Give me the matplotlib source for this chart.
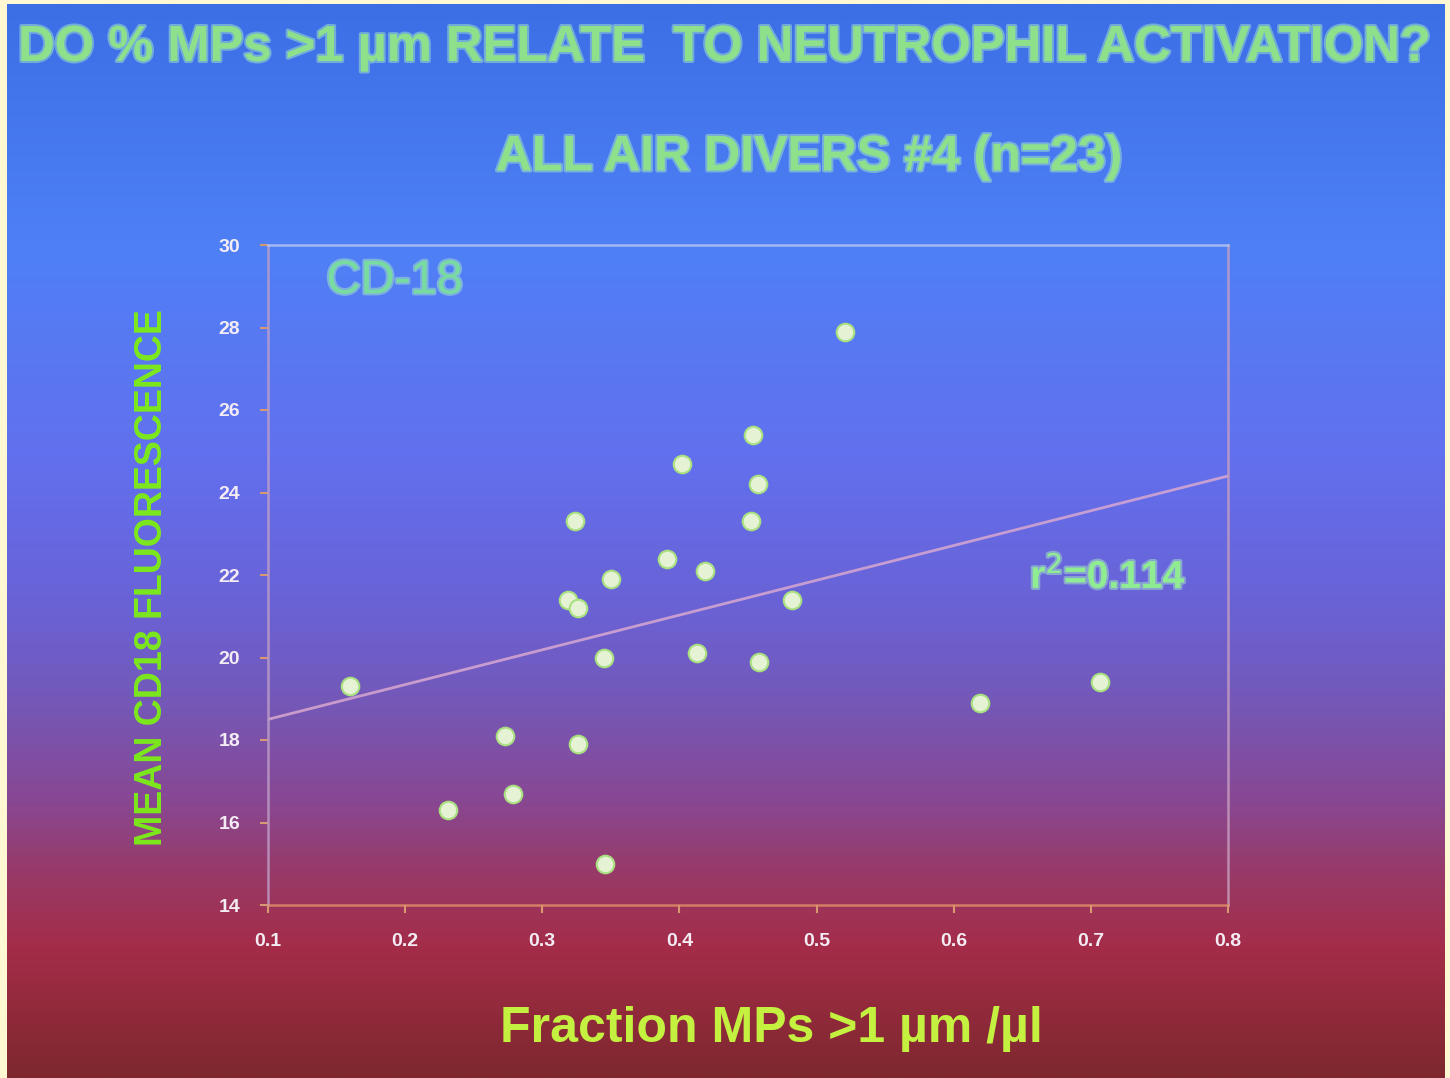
import matplotlib.pyplot as plt
import numpy as np
import matplotlib.patheffects as pe
from matplotlib.colors import LinearSegmentedColormap

# data
frac_mps = [0.160, 0.231, 0.273, 0.279, 0.324, 0.319, 0.326, 0.326, 0.346, 0.350,
            0.345, 0.391, 0.402, 0.419, 0.413, 0.454, 0.457, 0.452, 0.458, 0.482,
            0.521, 0.619, 0.707]
cd18 = [19.3, 16.3, 18.1, 16.7, 23.3, 21.4, 21.2, 17.9, 15.0, 21.9,
        20.0, 22.4, 24.7, 22.1, 20.1, 25.4, 24.2, 23.3, 19.9, 21.4,
        27.9, 18.9, 19.4]
trend_x = [0.1, 0.8]
trend_y = [18.5, 24.4]
xticks = [0.1, 0.2, 0.3, 0.4, 0.5, 0.6, 0.7, 0.8]
yticks = [14, 16, 18, 20, 22, 24, 26, 28, 30]

font = ['Liberation Sans', 'DejaVu Sans']
plt.rcParams['font.family'] = font

fig = plt.figure(figsize=(14.5, 10.78), dpi=100)
fig.patch.set_facecolor('#fff8d2')

# slide background gradient
bg = fig.add_axes([7/1450, 0, 1437/1450, 1074/1078])
bg.set_axis_off()
stops = [(0.0, '#3c6ee6'), (0.23, '#4f80f6'), (0.42, '#6270ee'), (0.56, '#6a62d6'),
         (0.65, '#7458b8'), (0.74, '#884894'), (0.81, '#983a68'), (0.88, '#a42c48'),
         (1.0, '#7e282e')]
cmap = LinearSegmentedColormap.from_list('slide', stops)
grad = np.linspace(0, 1, 512).reshape(-1, 1)
bg.imshow(grad, aspect='auto', cmap=cmap, extent=[0, 1, 0, 1], origin='upper')

ax = fig.add_axes([268/1450, 173/1078, 960/1450, 660/1078])
ax.set_facecolor('none')

ax.plot(trend_x, trend_y, color='#d8a8d0', lw=2, alpha=0.85, zorder=2)
ax.scatter(frac_mps, cd18, s=160, facecolor='#e6f2d4', edgecolor='#a8e080',
           linewidth=1.5, zorder=3)

ax.set_xlim(0.1, 0.8)
ax.set_ylim(14, 30)
ax.set_xticks(xticks, [f'{t:.1f}' for t in xticks])
ax.set_yticks(yticks, [str(t) for t in yticks])
ax.tick_params(axis='both', direction='out', length=6, width=1.5, color='#d89870',
               labelcolor='#f4ecf4', labelsize=14, pad=14)
for lab in ax.get_xticklabels() + ax.get_yticklabels():
    lab.set_fontweight('bold')

ax.spines['top'].set_color('#b8c8f0')
ax.spines['right'].set_color('#c8a0c0')
ax.spines['left'].set_color('#c0a0c8')
ax.spines['bottom'].set_color('#e09068')
for sp in ax.spines.values():
    sp.set_linewidth(1.8)
    sp.set_alpha(0.8)

glow = [pe.withStroke(linewidth=3, foreground='#a8e8c8', alpha=0.5)]

ax.text(0.132, 0.945, 'CD-18', transform=ax.transAxes, ha='center', va='center',
        fontsize=34, color='#78dca0', path_effects=glow)
ax.text(0.875, 0.498, 'r$^2$=0.114', transform=ax.transAxes, ha='center', va='center',
        fontsize=28, fontweight='bold', color='#90ec90', path_effects=glow)

fig.text(0.5, 0.956, 'DO % MPs >1 \u00b5m RELATE  TO NEUTROPHIL ACTIVATION?',
         ha='center', va='center', fontsize=36.5, fontweight='bold', color='#8ee08a',
         path_effects=glow)
fig.text(0.558, 0.854, 'ALL AIR DIVERS #4 (n=23)', ha='center', va='center',
         fontsize=36, fontweight='bold', color='#8ee08a', path_effects=glow)
fig.text(0.532, 0.045, 'Fraction MPs >1 \u00b5m /\u00b5l', ha='center', va='center',
         fontsize=36, fontweight='bold', color='#c4f040')
fig.text(0.105, 0.464, 'MEAN CD18 FLUORESCENCE', ha='center', va='center', rotation=90,
         fontsize=27, fontweight='bold', color='#7ce81c')

fig.savefig('out.png', dpi=100, facecolor=fig.get_facecolor())
